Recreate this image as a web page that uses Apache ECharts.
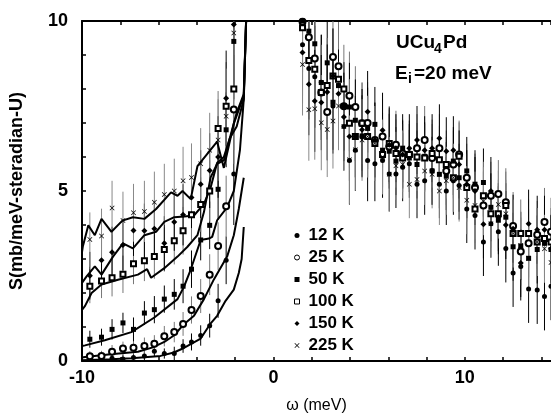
<!DOCTYPE html>
<html><head><meta charset="utf-8">
<script src="https://cdn.jsdelivr.net/npm/echarts@6/dist/echarts.min.js"></script>
<style>html,body{margin:0;padding:0;background:#fff}#c{width:551px;height:419px}</style>
</head><body><div id="c"></div>
<script>
// ---- data ----
const seriesNames = ['12 K', '25 K', '50 K', '100 K', '150 K', '225 K'];
const xTickLabels = [-10, 0, 10];
const yTickLabels = [0, 5, 10];

const omegaLeft = [-9.59,-8.98,-8.43,-7.86,-7.31,-6.74,-6.22,-5.7,-5.18,-4.72,-4.28,-3.8,-3.33,-2.89,-2.47,-2.07];
const s12L  = [0.08,0.06,0.08,0.06,0.1,0.15,0.29,0.22,0.22,0.44,0.56,0.75,1.04,1.77,2.96,5.5];
const s25L  = [0.14,0.15,0.27,0.37,0.39,0.44,0.51,0.73,0.85,1.09,1.5,1.91,2.54,3.38,4.55,7.4];
const s50L  = [0.64,0.7,0.93,1.12,0.93,1.41,1.51,1.82,1.96,2.2,2.7,3.56,3.99,5.05,6.8,9.4];
const s100L = [2.2,2.35,2.45,2.55,2.86,2.95,3.07,3.28,3.54,3.83,4.3,4.6,5.0,6.84,7.49,8.0];
const s150L = [2.51,2.96,3.2,3.41,3.84,3.83,3.89,3.46,4.09,4.3,4.81,5.2,5.6,6.0,7.73,9.9];
const s225L = [3.57,3.68,4.5,4.13,4.36,4.4,4.67,4.9,5.0,5.3,5.4,5.8,6.2,6.5,7.2,9.65];
const e12L  = [0.12,0.12,0.12,0.12,0.12,0.15,0.15,0.15,0.2,0.2,0.25,0.3,0.35,0.5,0.7,1.5];
const e25L  = [0.15,0.15,0.2,0.2,0.2,0.25,0.25,0.3,0.3,0.35,0.4,0.5,0.6,0.7,0.9,1.6];
const e50L  = [0.25,0.25,0.3,0.3,0.35,0.35,0.4,0.4,0.45,0.5,0.55,0.6,0.7,0.9,1.1,1.7];
const e100L = [0.5,0.5,0.55,0.55,0.6,0.6,0.65,0.65,0.7,0.7,0.75,0.8,0.9,1.1,1.3,1.8];
const e150L = [0.7,0.7,0.75,0.75,0.75,0.8,0.8,0.8,0.85,0.9,0.9,1.0,1.1,1.2,1.4,1.9];
const e225L = [0.8,0.8,0.8,0.85,0.85,0.9,0.9,0.9,0.95,1.0,1.0,1.05,1.1,1.2,1.4,2.0];

const omegaRight = [1.52,1.85,2.16,2.5,2.81,3.11,3.4,3.68,3.97,4.28,4.63,4.92,5.3,5.7,6.05,6.4,6.75,7.1,7.5,7.9,8.29,8.67,9.03,9.4,9.7,10.1,10.53,10.97,11.36,11.75,12.14,12.52,12.92,13.33,13.78,14.16,14.5];
const s12R  = [9.3,8.6,8.36,8.2,7.3,7.5,8.1,6.9,5.9,6.2,6.6,5.9,5.8,5.9,5.5,5.5,5.7,5.8,5.2,5.3,5.6,5.2,5.0,5.3,5.16,4.47,4.28,3.5,4.04,3.8,3.31,2.59,2.78,2.12,2.09,1.9,2.2];
const s25R  = [9.98,9.52,8.9,7.9,7.32,8.94,8.67,7.49,7.8,7.47,6.99,7.0,6.5,6.6,6.3,6.36,6.1,6.07,6.26,6.5,5.97,6.26,5.59,5.78,6.07,5.39,5.1,4.57,4.86,4.91,4.67,3.97,3.22,3.46,3.71,4.09,3.8];
const s50R  = [10.0,9.7,9.33,8.19,8.77,7.61,8.1,7.49,7.47,7.08,6.62,6.84,6.96,6.2,6.17,5.88,6.26,5.97,5.78,6.02,5.59,5.49,5.44,5.88,5.39,5.59,5.2,5.25,4.52,4.14,4.23,3.36,3.38,3.02,3.28,3.46,3.28];
const s100R = [9.8,8.84,8.58,7.9,8.1,8.38,8.29,8.0,6.99,6.6,6.99,6.6,6.4,6.07,6.4,6.1,5.97,6.07,6.0,5.97,6.1,5.92,5.78,5.39,6.02,5.1,4.47,4.86,4.33,4.33,4.57,3.75,3.75,3.75,3.5,3.6,3.5];
const s150R = [9.07,8.14,7.65,7.6,7.91,8.38,7.86,7.18,6.6,6.6,6.8,7.33,6.5,6.79,6.36,6.26,6.07,6.26,6.5,6.2,6.26,6.55,6.17,6.2,5.78,5.2,5.0,4.02,5.0,4.23,4.0,3.89,2.88,4.04,3.86,3.86,3.3];
const s225R = [8.72,7.39,7.42,7.01,6.81,7.06,7.5,6.9,5.92,6.21,6.5,6.6,6.4,6.0,5.49,5.74,5.78,5.2,5.34,5.59,5.49,5.0,5.3,5.39,5.1,4.73,4.57,4.7,4.04,4.6,4.33,3.75,3.4,3.02,3.5,3.3,2.9];
const errRight = [1.5,1.5,1.5,1.4,1.4,1.4,1.3,1.3,1.3,1.2,1.2,1.2,1.1,1.1,1.1,1.0,1.0,1.0,1.0,1.0,1.0,1.0,1.0,1.0,1.0,1.0,1.0,1.0,1.0,1.0,1.0,1.0,1.0,1.0,1.0,1.0,1.0];

// model fits (omega, S)
const fit12  = [[-10,0.02],[-8.5,0.05],[-7.4,0.08],[-5.9,0.15],[-5.2,0.25],[-4.65,0.39],[-3.8,0.66],[-3.3,1.09],[-2.94,1.33],[-2.5,1.77],[-2.07,2.1],[-1.81,2.59],[-1.66,3.0],[-1.55,3.94]];
const fit25  = [[-10,0.1],[-9.84,0.12],[-8.5,0.2],[-7.08,0.27],[-6.3,0.4],[-5.7,0.56],[-5.2,0.75],[-4.66,1.09],[-4.15,1.33],[-3.63,1.82],[-3.11,2.4],[-2.42,3.07],[-2.07,3.7],[-1.81,4.47],[-1.55,5.39]];
const fit50  = [[-10,0.44],[-9.84,0.46],[-8.81,0.61],[-7.42,0.85],[-6.22,1.28],[-5.01,1.82],[-4.66,2.2],[-4.32,2.69],[-3.8,3.56],[-3.37,3.6],[-3.2,3.65],[-2.94,4.14],[-2.42,4.52],[-2.07,5.0],[-1.75,6.2],[-1.55,7.7],[-1.4,10.5]];
const fit100 = [[-10,1.5],[-9.84,1.62],[-9.5,2.0],[-8.98,2.25],[-8.12,2.39],[-7.08,2.54],[-6.6,2.7],[-6.39,2.45],[-5.7,2.73],[-5.01,3.07],[-4.49,3.36],[-3.97,3.7],[-3.63,4.38],[-3.28,5.4],[-2.94,5.8],[-2.59,5.9],[-2.28,6.55],[-1.92,7.3],[-1.55,7.85],[-1.4,10.5]];
const fit150 = [[-10,2.3],[-9.76,2.49],[-9.33,2.78],[-8.98,2.54],[-8.38,3.07],[-7.86,3.46],[-7.34,3.31],[-6.74,3.7],[-6.13,3.8],[-5.7,4.09],[-5.18,4.23],[-4.66,4.25],[-4.15,4.28],[-3.63,4.62],[-3.28,5.1],[-2.94,5.83],[-2.59,6.0],[-2.28,6.55],[-1.92,6.9],[-1.55,7.7],[-1.4,10.5]];
const fit225 = [[-10,3.2],[-9.96,3.36],[-9.67,3.99],[-9.33,3.7],[-8.98,4.18],[-8.46,3.8],[-7.89,4.13],[-7.34,4.23],[-6.74,4.18],[-6.13,4.47],[-5.35,4.96],[-5.01,4.86],[-4.75,5.0],[-4.32,4.76],[-3.97,5.73],[-2.94,6.45],[-2.59,5.68],[-2.07,6.98],[-1.55,7.8],[-1.4,10.5]];

// ---- build ----
const FONT = 'Liberation Sans, Arial, Helvetica, sans-serif';
const X_SYM = 'path://M0,1L1,0L5,4L9,0L10,1L6,5L10,9L9,10L5,6L1,10L0,9L4,5Z';
const styles = [
  {symbol:'circle', size:5, bar:'#000', legend:{icon:'circle', itemStyle:{color:'#000',borderWidth:0}}},
  {symbol:'emptyCircle', size:6, bar:'#777', legend:{icon:'circle', itemStyle:{color:'#fff',borderColor:'#000',borderWidth:1}}},
  {symbol:'rect', size:5, bar:'#000', legend:{icon:'rect', itemStyle:{color:'#000',borderWidth:0}}},
  {symbol:'emptyRect', size:5, bar:'#777', legend:{icon:'rect', itemStyle:{color:'#fff',borderColor:'#000',borderWidth:1}}},
  {symbol:'diamond', size:6, bar:'#000', legend:{icon:'diamond', itemStyle:{color:'#000',borderWidth:0}}},
  {symbol:X_SYM, size:5, bar:'#888', legend:{icon:X_SYM, itemStyle:{color:'#000',borderWidth:0}}}
];
const leftVals = [s12L,s25L,s50L,s100L,s150L,s225L];
const leftErrs = [e12L,e25L,e50L,e100L,e150L,e225L];
const rightVals = [s12R,s25R,s50R,s100R,s150R,s225R];
const fits = [fit12,fit25,fit50,fit100,fit150,fit225];

function pts(i){
  const d=[];
  omegaLeft.forEach((w,k)=>d.push([w,leftVals[i][k],leftErrs[i][k]]));
  omegaRight.forEach((w,k)=>d.push([w,rightVals[i][k],errRight[k]]));
  return d;
}
const series=[];
seriesNames.forEach((n,i)=>{
  const st=styles[i];
  series.push({
    type:'custom', name:n+'_err', data:pts(i), clip:true, silent:true, z:1,
    encode:{x:0,y:1},
    renderItem:function(params,api){
      const x=api.value(0), y=api.value(1), e=api.value(2);
      const p1=api.coord([x,y-e]), p2=api.coord([x,y+e]);
      return {type:'line', shape:{x1:p1[0],y1:p1[1],x2:p2[0],y2:p2[1]}, style:{stroke:st.bar,lineWidth:1}};
    }
  });
});
seriesNames.forEach((n,i)=>{
  const st=styles[i];
  series.push({
    type:'scatter', name:n, data:pts(i).map(p=>[p[0],p[1]]), symbol:st.symbol, symbolSize:st.size,
    clip:true, z:3,
    itemStyle:{color:'#000', borderColor:'#000', borderWidth: (i===1||i===3)?1:0, opacity:1}
  });
});
fits.forEach((f,i)=>{
  series.push({type:'line', name:'fit'+i, data:f, symbol:'none', clip:true, z:2,
    lineStyle:{color:'#000', width:2}, silent:true});
});

const chart=echarts.init(document.getElementById('c'),null,{renderer:'canvas'});
const axisCommon = {
  axisLine:{show:true,onZero:false,lineStyle:{color:'#000',width:2}},
  axisTick:{show:true,inside:true,length:4,lineStyle:{color:'#000',width:1.5}},
  splitLine:{show:false}
};
chart.setOption({
  backgroundColor:'#fff',
  animation:false,
  textStyle:{fontFamily:FONT},
  grid:{left:78,right:0,top:21,bottom:53,containLabel:false},
  legend:{
    data:seriesNames.map((n,i)=>Object.assign({name:n},styles[i].legend)),
    orient:'vertical', left:289, top:222,
    itemWidth:5, itemHeight:5, itemGap:5,
    textStyle:{fontFamily:FONT,fontSize:17,fontWeight:'bold',color:'#000',lineHeight:17,padding:[0,0,0,4]},
    selectedMode:false
  },
  xAxis:[
    Object.assign({type:'value',min:-10,max:14.5,interval:2,position:'bottom',
      axisLabel:{formatter:v=>xTickLabels.indexOf(v)>=0?String(v):'',fontFamily:FONT,fontSize:18,fontWeight:'bold',color:'#000',margin:8,showMaxLabel:false},
      name:'ω (meV)',nameLocation:'middle',nameGap:37,
      nameTextStyle:{fontFamily:FONT,fontSize:16,color:'#000'}},axisCommon),
    Object.assign({type:'value',min:-10,max:14.5,interval:2,position:'top',
      axisLabel:{show:false}},axisCommon)
  ],
  yAxis:[
    Object.assign({type:'value',min:0,max:10,interval:1,position:'left',
      axisLabel:{formatter:v=>yTickLabels.indexOf(v)>=0?String(v):'',fontFamily:FONT,fontSize:18,fontWeight:'bold',color:'#000',margin:14},
      name:'S(mb/meV-steradian-U)',nameLocation:'middle',nameGap:56,
      nameTextStyle:{fontFamily:FONT,fontSize:18,fontWeight:'bold',color:'#000'}},axisCommon)
  ],
  graphic:[
    {type:'text',left:396,top:33,style:{text:'UCu',font:'bold 19px '+FONT,fill:'#000'}},
    {type:'text',left:434,top:42,style:{text:'4',font:'bold 14px '+FONT,fill:'#000'}},
    {type:'text',left:443,top:33,style:{text:'Pd',font:'bold 19px '+FONT,fill:'#000'}},
    {type:'text',left:395,top:64,style:{text:'E',font:'bold 19px '+FONT,fill:'#000'}},
    {type:'text',left:408,top:72,style:{text:'i',font:'bold 14px '+FONT,fill:'#000'}},
    {type:'text',left:414,top:64,style:{text:'=20 meV',font:'bold 19px '+FONT,fill:'#000'}}
  ],
  series:series
});
</script></body></html>
